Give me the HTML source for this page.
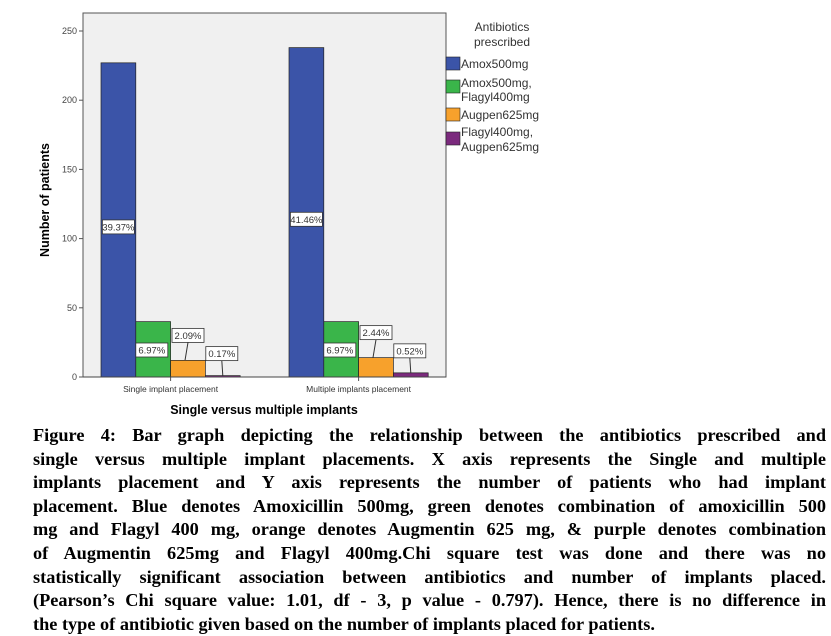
<!DOCTYPE html>
<html><head><meta charset="utf-8">
<style>
body{margin:0;background:#fff;width:831px;height:632px;overflow:hidden;position:relative;font-family:"Liberation Sans",Arial,sans-serif}
#cap{position:absolute;left:33px;top:424px;width:793px;font-family:"Liberation Serif",serif;font-weight:bold;font-size:18.3px;line-height:23.6px;color:#000}
#cap div{text-align:justify;text-align-last:justify;white-space:nowrap}
#cap div.last{text-align-last:left}
</style></head><body>
<svg id="chart" width="831" height="420" style="position:absolute;left:0;top:0" font-family="Liberation Sans, Arial, sans-serif">
<rect x="83" y="13" width="363" height="364" fill="#f0f0f0" stroke="#555" stroke-width="1"/>
<g id="yaxis"></g>
<g id="bars"></g>
<text transform="translate(49,200) rotate(-90)" text-anchor="middle" font-size="12.5" font-weight="bold">Number of patients</text>
<text x="264" y="414" text-anchor="middle" font-size="12.5" font-weight="bold">Single versus multiple implants</text>
<g font-size="12" fill="#333">
<text x="502" y="31" text-anchor="middle">Antibiotics</text>
<text x="502" y="46" text-anchor="middle">prescribed</text>
<rect x="446" y="57" width="14" height="13" fill="#3b54a8" stroke="#222" stroke-width="0.6"/><text x="461" y="68">Amox500mg</text>
<rect x="446" y="80" width="14" height="13" fill="#3ab54a" stroke="#222" stroke-width="0.6"/><text x="461" y="87">Amox500mg,</text><text x="461" y="101">Flagyl400mg</text>
<rect x="446" y="108" width="14" height="13" fill="#f7a12c" stroke="#222" stroke-width="0.6"/><text x="461" y="119">Augpen625mg</text>
<rect x="446" y="132" width="14" height="13" fill="#7b2a7d" stroke="#222" stroke-width="0.6"/><text x="461" y="136">Flagyl400mg,</text><text x="461" y="151">Augpen625mg</text>
</g>
</svg>
<div id="cap">
<div>Figure 4: Bar graph depicting the relationship between the antibiotics prescribed and</div>
<div>single versus multiple implant placements. X axis represents the Single and multiple</div>
<div>implants placement and Y axis represents the number of patients who had implant</div>
<div>placement. Blue denotes Amoxicillin 500mg, green denotes combination of amoxicillin 500</div>
<div>mg and Flagyl 400 mg, orange denotes Augmentin 625 mg, &amp; purple denotes combination</div>
<div>of Augmentin 625mg and Flagyl 400mg.Chi square test was done and there was no</div>
<div>statistically significant association between antibiotics and number of implants placed.</div>
<div>(Pearson’s Chi square value: 1.01, df - 3, p value - 0.797). Hence, there is no difference in</div>
<div class="last">the type of antibiotic given based on the number of implants placed for patients.</div>
</div>
<script>
const categories=["Single implant placement","Multiple implants placement"];
const seriesNames=["Amox500mg","Amox500mg, Flagyl400mg","Augpen625mg","Flagyl400mg, Augpen625mg"];
const colors=["#3b54a8","#3ab54a","#f7a12c","#7b2a7d"];
const amox=[227,238];
const amoxFlagyl=[40,40];
const augpen=[12,14];
const flagylAugpen=[1,3];
const pctAmox=["39.37%","41.46%"];
const pctAmoxFlagyl=["6.97%","6.97%"];
const pctAugpen=["2.09%","2.44%"];
const pctFlagylAugpen=["0.17%","0.52%"];
const yTicks=[0,50,100,150,200,250];

const NS="http://www.w3.org/2000/svg";
const y0=377,yScale=346/250;
const Y=v=>y0-v*yScale;
const groupX=i=>101+i*188;
const bw=34.8;
function mk(t,a,p){const e=document.createElementNS(NS,t);for(const k in a)e.setAttribute(k,a[k]);p.appendChild(e);return e;}
const ya=document.getElementById('yaxis');
yTicks.forEach(v=>{
  const l=mk('line',{x1:79,x2:83,y1:Y(v),y2:Y(v),stroke:'#555'},ya);
  
  
  const t=mk('text',{x:77,y:Y(v)+3,'text-anchor':'end','font-size':9,fill:'#444'},ya);
  
  
  t.textContent=v;
});
const bars=document.getElementById('bars');
const series=[amox,amoxFlagyl,augpen,flagylAugpen];
const pcts=[pctAmox,pctAmoxFlagyl,pctAugpen,pctFlagylAugpen];
categories.forEach((c,i)=>{
  const gx=groupX(i);
  series.forEach((s,j)=>{
    const x=gx+j*bw;
    const r=mk('rect',{x:x,y:Y(s[i]),width:bw,height:y0-Y(s[i]),fill:colors[j],stroke:'#222','stroke-width':0.7},bars);
    
    
  });
  series.forEach((s,j)=>{
    const x=gx+j*bw;let lx,ly;
    if(j===0){lx=x+bw/2;ly=Y(s[i]/2)+7;}
    else if(j===1){lx=x+16;ly=y0-27;}
    else{lx=x+bw/2+(j===3?-1:0);ly=Y(s[i])-22-(j===2?3:0);
      const ll=mk('line',{x1:x+bw/2-(j===2?3:0),y1:Y(s[i]),x2:lx,y2:ly+7,stroke:'#333'},bars);
      
      }
    const b=mk('rect',{x:lx-16,y:ly-7,width:32,height:14,fill:'#fff',stroke:'#333','stroke-width':0.8},bars);
    
    
    const t=mk('text',{x:lx,y:ly+3.5,'text-anchor':'middle','font-size':9.5,fill:'#333'},bars);
    
    
    t.textContent=pcts[j][i];
  });
  const tk=mk('line',{x1:gx+2*bw,x2:gx+2*bw,y1:y0,y2:y0+4,stroke:'#555'},bars);
  
  
  const ct=mk('text',{x:gx+2*bw,y:392,'text-anchor':'middle','font-size':8.5,fill:'#333'},bars);
  
  
  ct.textContent=c;
});
mk('line',{x1:83,x2:446,y1:y0,y2:y0,stroke:'#444'},bars);
</script>
</body></html>
